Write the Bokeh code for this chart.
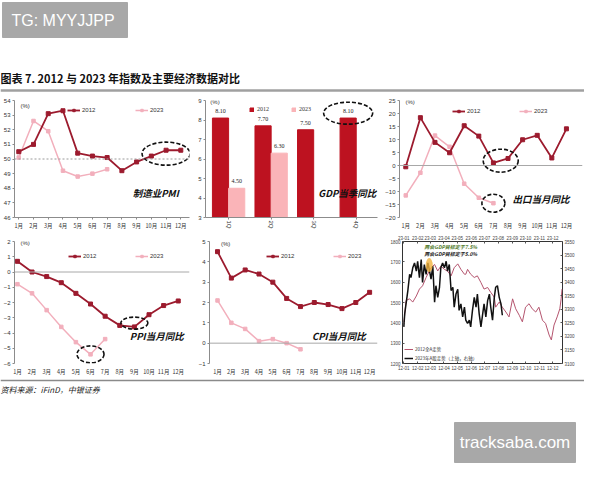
import numpy as np
from bokeh.plotting import figure
from bokeh.layouts import column, row
from bokeh.models import (Range1d, FixedTicker, Label, Span, Legend, LegendItem,
                          LinearAxis)
from bokeh.core.properties import value
from bokeh.embed import file_html
from bokeh.resources import INLINE

# ---------------- data ----------------
months = ["1月", "2月", "3月", "4月", "5月", "6月", "7月", "8月", "9月", "10月", "11月", "12月"]
month_no = list(range(1, 13))

pmi_2012 = [50.5, 51.0, 53.1, 53.3, 50.4, 50.2, 50.1, 49.2, 49.8, 50.2, 50.6, 50.6]
pmi_2023 = [50.1, 52.6, 51.9, 49.2, 48.8, 49.0, 49.3]

quarters = ["1Q", "2Q", "3Q", "4Q"]
gdp_2012 = [8.10, 7.70, 7.50, 8.10]
gdp_2023 = [4.50, 6.30]

exp_2012 = [-0.5, 18.4, 8.9, 4.9, 15.3, 11.3, 1.0, 2.7, 9.9, 11.6, 2.9, 14.1]
exp_2023 = [-11.5, -2.8, 11.5, 7.2, -7.0, -12.4, -14.5]

ppi_2012 = [0.7, 0.0, -0.3, -0.7, -1.4, -2.1, -2.9, -3.5, -3.6, -2.8, -2.2, -1.9]
ppi_2023 = [-0.8, -1.4, -2.5, -3.6, -4.6, -5.4, -4.4]

cpi_2012 = [4.5, 3.2, 3.6, 3.4, 3.0, 2.2, 1.8, 2.0, 1.9, 1.7, 2.0, 2.5]
cpi_2023 = [2.1, 1.0, 0.7, 0.1, 0.2, 0.0, -0.3]

# index panel: day-of-year positions and levels
month_start = [0, 31, 59, 90, 120, 151, 181, 212, 243, 273, 304, 334]
labels_2012 = ["12-01", "12-02", "12-03", "12-04", "12-05", "12-06",
               "12-07", "12-08", "12-09", "12-10", "12-11", "12-12"]
labels_2023 = ["23-01", "23-02", "23-03", "23-04", "23-05", "23-06",
               "23-07", "23-08", "23-09", "23-10", "23-11", "23-12"]
left_ticks = [1200, 1300, 1400, 1500, 1600, 1700, 1800]
right_ticks = [3100, 3150, 3200, 3250, 3300, 3350, 3400, 3450, 3500, 3550]

a2012_day = [0, 5, 13, 20, 28, 35, 42, 50, 57, 61, 69, 76, 83, 91, 98, 106, 113, 121,
             128, 136, 139, 143, 150, 158, 165, 173, 180, 188, 195, 203, 206, 214, 221,
             229, 236, 244, 251, 259, 266, 273, 281, 288, 296, 303, 311, 318, 326, 331,
             337, 344, 350, 353, 355]
a2012 = [1397, 1510, 1518, 1502, 1532, 1566, 1582, 1623, 1655, 1671, 1687, 1655, 1679,
         1663, 1655, 1631, 1671, 1690, 1663, 1639, 1639, 1663, 1639, 1623, 1631, 1598,
         1566, 1574, 1550, 1526, 1477, 1502, 1477, 1453, 1429, 1518, 1469, 1437, 1405,
         1477, 1494, 1469, 1453, 1477, 1413, 1397, 1340, 1316, 1389, 1429, 1469, 1518,
         1566]
a2023_day = [0, 2, 9, 13, 16, 20, 24, 28, 31, 35, 39, 42, 46, 50, 54, 57, 61, 65, 69,
             72, 76, 80, 83, 87, 91, 95, 98, 102, 106, 110, 113, 117, 121, 124, 128,
             132, 136, 139, 143, 147, 150, 154, 158, 162, 165, 169, 173, 177, 180, 184,
             188, 192, 195, 199, 203, 206, 210, 214, 218, 221]
a2023 = [3235, 3284, 3369, 3429, 3417, 3453, 3471, 3441, 3477, 3417, 3483, 3399, 3465,
         3429, 3471, 3447, 3411, 3459, 3326, 3387, 3344, 3381, 3453, 3471, 3453, 3477,
         3441, 3465, 3369, 3381, 3308, 3356, 3374, 3296, 3320, 3272, 3308, 3260, 3248,
         3260, 3235, 3296, 3344, 3308, 3356, 3284, 3235, 3284, 3320, 3272, 3332, 3356,
         3308, 3260, 3344, 3381, 3387, 3344, 3320, 3278]
lianghui_day = 57
lianghui_level = 1684

# ---------------- styles ----------------
FONT = "Liberation Sans"
CJK = "Noto Sans CJK SC"
C12 = "#9c1b2e"
C23 = "#f2afbc"
G12 = "#bd1220"
G23 = "#fab4b8"
AX = "#8c8c8c"


def base_fig(w, h, xr, yr, bl, br, bt, bb):
    p = figure(width=w, height=h, x_range=xr, y_range=yr, output_backend="svg",
               toolbar_location=None, min_border_left=bl, min_border_right=br,
               min_border_top=bt, min_border_bottom=bb)
    p.outline_line_color = None
    p.xgrid.visible = False
    p.ygrid.visible = False
    return p


def style_axes(p, size="6px"):
    for ax in p.axis:
        ax.axis_line_color = AX
        ax.major_tick_line_color = AX
        ax.minor_tick_line_color = None
        ax.major_tick_out = 2
        ax.major_tick_in = 0
        ax.major_label_standoff = 2
        ax.major_label_text_font_size = size
        ax.major_label_text_font = FONT
        ax.major_label_text_color = "#333333"


def month_panel(w, h, xr, yr, yticks, s12, s23, borders, leg_loc, leg_spacing,
                bottom_line=False):
    p = base_fig(w, h, xr, yr, *borders)
    style_axes(p)
    p.yaxis.ticker = FixedTicker(ticks=yticks)
    p.xaxis.ticker = FixedTicker(ticks=month_no)
    p.xaxis.major_label_overrides = dict(zip(month_no, months))
    p.xaxis.major_label_text_font = CJK
    p.xaxis.major_label_text_font_size = "5.5px"
    if not bottom_line:
        p.xaxis.axis_line_color = None
        p.xaxis.major_tick_line_color = None
    x23 = month_no[:len(s23)]
    l23 = p.line(x23, s23, line_color=C23, line_width=1.5)
    m23 = p.scatter(x23, s23, marker="square", size=3.5, color=C23)
    l12 = p.line(month_no, s12, line_color=C12, line_width=1.8)
    m12 = p.scatter(month_no, s12, marker="square", size=4, color=C12)
    leg = Legend(items=[LegendItem(label="2012", renderers=[l12, m12]),
                        LegendItem(label="2023", renderers=[l23, m23])],
                 location=leg_loc, orientation="horizontal", spacing=leg_spacing,
                 glyph_width=13, glyph_height=6, label_standoff=2, label_height=6,
                 padding=0, margin=0, border_line_alpha=0, background_fill_alpha=0,
                 label_text_font_size="6px", label_text_font=FONT,
                 label_text_color="#333333")
    p.add_layout(leg)
    return p


def caption(p, x, y, text, size="9.5px"):
    p.add_layout(Label(x=x, y=y, text=text, text_font=CJK, text_font_size=size,
                       text_font_style="bold italic", text_color="#111111",
                       text_baseline="middle", text_align="left"))


def pct(p, x, y):
    p.add_layout(Label(x=x, y=y, text="(%)", text_font=FONT, text_font_size="6px",
                       text_color="#333333", text_baseline="middle"))


def ring(p, x, y, w, h):
    p.ellipse(x=[x], y=[y], width=w, height=h, width_units="screen",
              height_units="screen", fill_alpha=0, line_color="#111111",
              line_width=1.6, line_dash="4 2")


def blank_fig(w, h):
    p = figure(width=w, height=h, x_range=Range1d(0, w), y_range=Range1d(h, 0),
               output_backend="svg", toolbar_location=None, min_border=0,
               x_axis_type=None, y_axis_type=None)
    p.grid.visible = False
    p.outline_line_color = None
    return p


# ---------------- header ----------------
head = blank_fig(584, 92)
head.quad(left=[2], right=[127], top=[2], bottom=[37], color="#a8a8a8")
head.text(x=[11], y=[20], text=["TG: MYYJJPP"], text_color="white",
          text_font=value(FONT), text_font_size="16px", text_baseline="middle")
head.text(x=[0], y=[77], text=["图表 7. 2012 与 2023 年指数及主要经济数据对比"],
          text_color="#111111", text_font=value(CJK), text_font_size="11px",
          text_font_style="bold", text_baseline="middle")
head.segment(x0=[0], x1=[584], y0=[90], y1=[90], line_color="#a0a0a0", line_width=2.5)

# ---------------- panel 1: PMI ----------------
p1 = month_panel(195, 140, Range1d(0.71, 12.59), Range1d(46, 54), list(range(46, 55)),
                 pmi_2012, pmi_2023, (13, 6, 6, 11), (53, 104), 33, bottom_line=True)
p1.add_layout(Span(location=50, dimension="width", line_color="#9a9a9a",
                   line_dash="2 2", line_width=1))
pct(p1, 1.11, 53.6)
caption(p1, 8.74, 47.69, "制造业PMI")
ring(p1, float(np.mean(month_no[9:12])), float(np.mean(pmi_2012[9:12])) - 0.1, 48, 23)

# ---------------- panel 2: GDP ----------------
p2 = base_fig(187, 140, Range1d(0.457, 4.5), Range1d(3, 9), 7, 5, 8, 10)
style_axes(p2)
p2.yaxis.ticker = FixedTicker(ticks=list(range(3, 10)))
q = np.arange(1, len(quarters) + 1)
p2.xaxis.ticker = FixedTicker(ticks=list(q))
p2.xaxis.major_label_overrides = dict(zip([int(v) for v in q], quarters))
p2.xaxis.major_label_orientation = "vertical"
p2.xaxis.major_label_standoff = 1
x12 = q - 0.19
x23 = q[:len(gdp_2023)] + 0.19
b12 = p2.vbar(x=x12, top=gdp_2012, bottom=3, width=0.38, color=G12)
b23 = p2.vbar(x=x23, top=gdp_2023, bottom=3, width=0.38, color=G23)
p2.text(x=list(x12), y=[v + 0.36 for v in gdp_2012], text=[f"{v:.2f}" for v in gdp_2012],
        text_align="center", text_baseline="middle", text_font=value("Liberation Serif"),
        text_font_size="6px", text_color="#222222")
p2.text(x=list(x23), y=[v + 0.36 for v in gdp_2023], text=[f"{v:.2f}" for v in gdp_2023],
        text_align="center", text_baseline="middle", text_font=value("Liberation Serif"),
        text_font_size="6px", text_color="#222222")
leg2 = Legend(items=[LegendItem(label="2012", renderers=[b12]),
                     LegendItem(label="2023", renderers=[b23])],
              location=(44, 105), orientation="horizontal", spacing=14,
              glyph_width=5, glyph_height=5, label_standoff=3, label_height=6,
              padding=0, margin=0, border_line_alpha=0, background_fill_alpha=0,
              label_text_font_size="6px", label_text_font="Liberation Serif",
              label_text_color="#333333")
p2.add_layout(leg2)
pct(p2, 0.57, 8.9)
caption(p2, 3.11, 4.28, "GDP当季同比")
ring(p2, float(x12[3]), gdp_2012[3] + 0.25, 49, 22)

# ---------------- panel 3: exports ----------------
p3 = month_panel(202, 140, Range1d(0.57, 13.1), Range1d(-20, 25), list(range(-20, 26, 5)),
                 exp_2012, exp_2023, (17, 2, 4, 13), (53, 103), 32)
p3.add_layout(Span(location=0, dimension="width", line_color="#a8a8a8", line_width=1))
pct(p3, 0.98, 24.5)
caption(p3, 8.31, -12.8, "出口当月同比")
ring(p3, float(np.mean(month_no[6:8])), float(np.mean(exp_2012[6:8])), 35, 23)
ring(p3, month_no[6], exp_2023[6], 23, 18)

# ---------------- panel 4: PPI ----------------
p4 = month_panel(195, 146, Range1d(0.8, 12.77), Range1d(-6, 2), list(range(-6, 3)),
                 ppi_2012, ppi_2023, (13, 6, 7, 15), (54, 104), 32)
p4.add_layout(Span(location=0, dimension="width", line_color="#a8a8a8", line_width=1))
pct(p4, 1.21, 1.87)
caption(p4, 8.69, -4.19, "PPI当月同比")
ring(p4, month_no[8], ppi_2012[8] + 0.25, 27, 12)
ring(p4, month_no[5], ppi_2023[5], 27, 17)

# ---------------- panel 5: CPI ----------------
p5 = month_panel(187, 146, Range1d(0.42, 12.57), Range1d(-1, 5), list(range(-1, 6)),
                 cpi_2012, cpi_2023, (7, 5, 6, 15), (57, 104), 32)
p5.add_layout(Span(location=0, dimension="width", line_color="#a8a8a8", line_width=1))
pct(p5, 1.25, 4.86)
caption(p5, 7.83, 0.34, "CPI当月同比")

# ---------------- panel 6: A-share index ----------------
p6 = figure(width=202, height=146, x_range=Range1d(-3, 356), y_range=Range1d(1200, 1800),
            output_backend="svg", toolbar_location=None, min_border_left=20,
            min_border_right=22, min_border_top=8, min_border_bottom=14)
p6.xgrid.visible = False
p6.ygrid.visible = False
p6.outline_line_color = "#333333"
p6.extra_y_ranges = {"r": Range1d(3100, 3550)}
p6.add_layout(LinearAxis(y_range_name="r", ticker=FixedTicker(ticks=right_ticks)), "right")
p6.add_layout(LinearAxis(ticker=FixedTicker(ticks=month_start),
                         major_label_overrides=dict(zip(month_start, labels_2023))), "above")
for ax in p6.below:
    ax.ticker = FixedTicker(ticks=month_start)
    ax.major_label_overrides = dict(zip(month_start, labels_2012))
for ax in p6.left:
    ax.ticker = FixedTicker(ticks=left_ticks)
for ax in p6.axis:
    ax.axis_line_color = None
    ax.major_tick_line_color = "#555555"
    ax.minor_tick_line_color = None
    ax.major_tick_out = 0
    ax.major_tick_in = 2
    ax.major_label_standoff = 2
    ax.major_label_text_font_size = "4.5px"
    ax.major_label_text_font = FONT
    ax.major_label_text_color = "#444444"
la = p6.line(a2012_day, a2012, line_color="#b4546e", line_width=1)
lb = p6.line(a2023_day, a2023, line_color="#111111", line_width=1.5, y_range_name="r")
p6.ellipse(x=[lianghui_day], y=[lianghui_level], width=7, height=14, width_units="screen",
           height_units="screen", fill_color="#f2b33d", fill_alpha=0.8, line_alpha=0)
leg6 = Legend(items=[LegendItem(label="2012全A走势", renderers=[la]),
                     LegendItem(label="2023年A股走势（上轴，右轴）", renderers=[lb])],
              location=(2, 2), orientation="vertical", spacing=3,
              glyph_width=9, glyph_height=4, label_standoff=2, label_height=5,
              padding=0, margin=0, border_line_alpha=0, background_fill_alpha=0,
              label_text_font_size="4.5px", label_text_font=CJK,
              label_text_color="#333333")
p6.add_layout(leg6)
p6.add_layout(Label(x=46, y=1776, text="两会GDP目标定于7.5%", text_font=CJK,
                    text_font_size="5px", text_font_style="bold italic",
                    text_color="#4f7a2a", text_baseline="middle"))
p6.add_layout(Label(x=46, y=1742, text="两会GDP目标定于5.0%", text_font=CJK,
                    text_font_size="5px", text_font_style="bold italic",
                    text_color="#222222", text_baseline="middle"))

# ---------------- footer ----------------
foot = blank_fig(584, 86)
foot.segment(x0=[0], x1=[584], y0=[2], y1=[2], line_color="#8a8a8a", line_width=1.5)
foot.text(x=[0], y=[11], text=["资料来源：iFinD，中银证券"], text_color="#222222",
          text_font=value(CJK), text_font_size="8px", text_font_style="italic",
          text_baseline="middle")
foot.quad(left=[454], right=[575], top=[44], bottom=[84], color="#a8a8a8")
foot.text(x=[514.5], y=[64], text=["tracksaba.com"], text_color="white",
          text_font=value(FONT), text_font_size="17px", text_baseline="middle",
          text_align="center")

layout = column(head, row(p1, p2, p3), row(p4, p5, p6), foot)
open("out.html", "w").write(file_html(layout, INLINE))
